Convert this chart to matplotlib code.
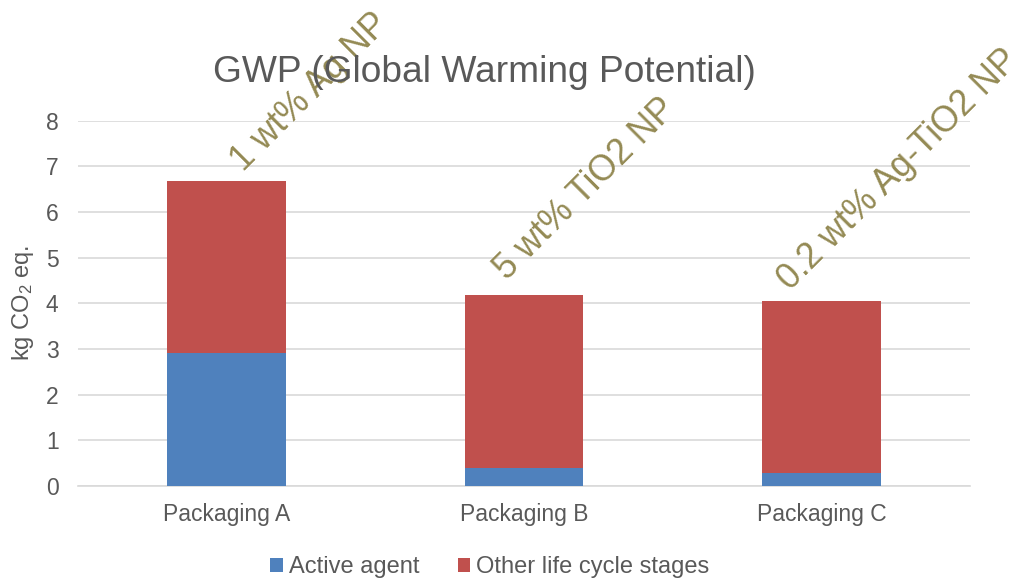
import matplotlib
matplotlib.use("Agg")
import matplotlib.pyplot as plt
import numpy as np

# Data (kg CO2 eq.)
categories = ["Packaging A", "Packaging B", "Packaging C"]
active_agent = [2.91, 0.40, 0.28]
other_stages = [3.78, 3.78, 3.78]
bar_labels = ["1 wt% Ag NP", "5 wt% TiO2 NP", "0.2 wt% Ag-TiO2 NP"]
series_names = ["Active agent", "Other life cycle stages"]
y_ticks = [0, 1, 2, 3, 4, 5, 6, 7, 8]

# Label offsets from the top-centre of each bar (points) - styling only
label_offsets = [(12, 6), (-12, 10), (-22, 7)]

plt.rcParams["font.family"] = ["Liberation Sans", "DejaVu Sans"]
plt.rcParams["mathtext.fontset"] = "custom"
plt.rcParams["mathtext.rm"] = "Liberation Sans"
plt.rcParams["mathtext.it"] = "Liberation Sans:italic"

BLUE = "#4F81BD"
RED = "#C0504D"
OLIVE = "#948A54"
TEXT = "#595959"
GRID = "#D9D9D9"

fig = plt.figure(figsize=(10.29, 5.83), dpi=100)
ax = fig.add_axes([78 / 1029, 1 - 486 / 583, (970 - 78) / 1029, (486 - 120.7) / 583])

x = np.arange(len(categories))
width = 0.4
ax.bar(x, active_agent, width, color=BLUE, label=series_names[0], zorder=3)
ax.bar(x, other_stages, width, bottom=active_agent, color=RED,
       label=series_names[1], zorder=3)

totals = np.array(active_agent) + np.array(other_stages)
for xi, tot, txt, off in zip(x, totals, bar_labels, label_offsets):
    ax.annotate(txt, xy=(xi, tot), xytext=off, textcoords="offset points",
                rotation=45, rotation_mode="anchor", ha="left", va="baseline",
                fontsize=25.7, color=OLIVE, zorder=5, annotation_clip=False)

ax.set_xlim(-0.5, len(categories) - 0.5)
ax.set_ylim(0, 8)
ax.set_yticks(y_ticks)
ax.set_xticks(x)
ax.set_xticklabels(categories)
ax.tick_params(axis="both", length=0, labelsize=16.5, colors=TEXT)
ax.tick_params(axis="y", pad=14)
ax.tick_params(axis="x", pad=12)
ax.yaxis.grid(True, color=GRID, linewidth=1.2, zorder=0)
ax.set_axisbelow(True)
for side in ["top", "right", "left"]:
    ax.spines[side].set_visible(False)
ax.spines["bottom"].set_color(GRID)
ax.spines["bottom"].set_linewidth(1.2)

ax.set_ylabel("kg CO$_2$ eq.", fontsize=17, color=TEXT, labelpad=7)

fig.text(484 / 1029, 1 - 82 / 583, "GWP (Global Warming Potential)",
         ha="center", va="baseline", fontsize=26.7, color=TEXT)

handles, labels = ax.get_legend_handles_labels()
fig.legend(handles, labels, loc="center", bbox_to_anchor=(490 / 1029, 1 - 567 / 583),
           ncol=2, frameon=False, fontsize=17, labelcolor=TEXT,
           handlelength=0.55, handleheight=0.55, handletextpad=0.25,
           columnspacing=1.6)

fig.savefig("out.png", dpi=100)
